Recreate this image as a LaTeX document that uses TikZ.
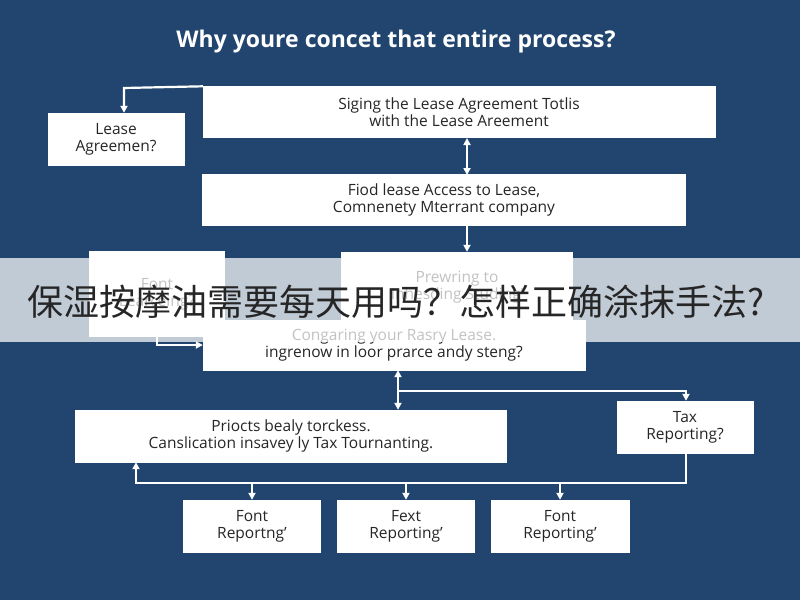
\documentclass[tikz,border=0pt]{standalone}
\usepackage{fontspec}
\setmainfont{Open Sans}
\newfontfamily\cjk{Noto Sans CJK SC}
\usetikzlibrary{arrows.meta}
\definecolor{bg_blue}{HTML}{21456F}
\tikzset{
  box/.style={draw=white, fill=white, text=black!85, align=center, font=\fontsize{15.5}{17}\selectfont, inner sep=0pt},
  link/.style={draw=white, line width=2.2pt, -{Triangle[length=7pt,width=7pt]}},
}
\begin{document}
\begin{tikzpicture}[x=1pt, y=-1pt]
	\fill[bg_blue] (0,0) rectangle (800,600);
	\node[text=white, font=\bfseries\fontsize{23}{26}\selectfont] (title) at (396,42) {Why youre concet that entire process?};
	% boxes
	\node[box, minimum width=512, minimum height=51] (sign) at (459,112) {Siging the Lease Agreement Totlis\\with the Lease Areement};
	\node[box, minimum width=136, minimum height=52] (lease) at (116,139) {Lease\\Agreemen?};
	\node[box, minimum width=483, minimum height=51] (fiod) at (444,200) {Fiod lease Access to Lease,\\Comnenety Mterrant company};
	\node[box, minimum width=135, minimum height=85] (learn) at (157,294) {Font\\Learceing?};
	\node[box, minimum width=231, minimum height=70] (prew) at (457,287) {Prewring to\\Inhesding Studing'};
	\node[box, minimum width=382, minimum height=50] (cong) at (394,345) {Congaring your Rasry Lease.\\ingrenow in loor prarce andy steng?};
	\node[box, minimum width=431, minimum height=52] (proj) at (291,436) {Priocts bealy torckess.\\Canslication insavey ly Tax Tournanting.};
	\node[box, minimum width=136, minimum height=52] (tax) at (685,427) {Tax\\Reporting?};
	\node[box, minimum width=137, minimum height=52] (rep1) at (252,526) {Font\\Reportng'};
	\node[box, minimum width=137, minimum height=52] (rep2) at (406,526) {Fext\\Reporting'};
	\node[box, minimum width=138, minimum height=52] (rep3) at (560,526) {Font\\Reporting'};
	% connectors
	\coordinate (c1) at (124,88);
	\draw[link] (sign.north west) -- (c1) -- (lease.north -| c1);
	\draw[link, {Triangle[length=7pt,width=7pt]}-{Triangle[length=7pt,width=7pt]}] (467,138) -- (467,175);
	\draw[link] (fiod.south -| 467,0) -- (prew.north -| 467,0);
	\draw[link] (learn.south) -- (157,345) -- (cong.west);
	\coordinate (c2) at (398,391);
	\draw[link, {Triangle[length=7pt,width=7pt]}-{Triangle[length=7pt,width=7pt]}] (cong.south -| c2) -- (proj.north -| c2);
	\draw[link] (c2) -- (686,391) -- (tax.north -| 686,0);
	\coordinate (c3) at (136,483);
	\draw[link] (tax.south -| 686,0) -- (686,483) -- (c3) -- (proj.south -| c3);
	\foreach \n in {rep1,rep2,rep3}
		\draw[link] (\n.north |- c3) -- (\n.north);
	% banner
	\fill[white, opacity=0.72] (0,258) rectangle (800,342);
	\node[text=black!85, font=\cjk\fontsize{36}{40}\selectfont] (banner) at (396,302) {保湿按摩油需要每天用吗？怎样正确涂抹手法?};
\end{tikzpicture}
\end{document}
